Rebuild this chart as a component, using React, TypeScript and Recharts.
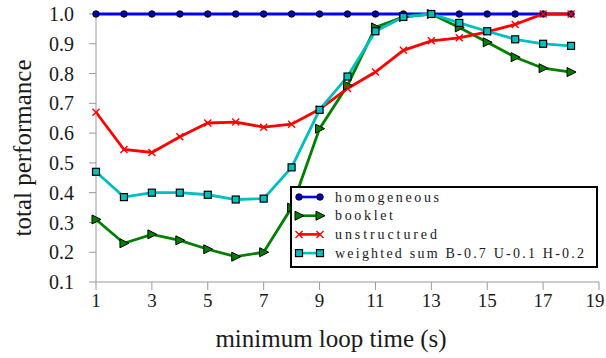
import { LineChart, Line, XAxis, YAxis, Legend, Label } from "recharts";

const loopTimes = [1, 2, 3, 4, 5, 6, 7, 8, 9, 10, 11, 12, 13, 14, 15, 16, 17, 18];
const homogeneous = [1, 1, 1, 1, 1, 1, 1, 1, 1, 1, 1, 1, 1, 1, 1, 1, 1, 1];
const booklet = [0.31, 0.23, 0.26, 0.24, 0.21, 0.185, 0.2, 0.35, 0.615, 0.76, 0.955, 0.99, 1.0, 0.955, 0.905, 0.855, 0.818, 0.805];
const unstructured = [0.67, 0.545, 0.535, 0.588, 0.634, 0.637, 0.62, 0.63, 0.68, 0.75, 0.805, 0.878, 0.91, 0.92, 0.94, 0.965, 1.0, 1.0];
const weighted = [0.47, 0.385, 0.4, 0.4, 0.393, 0.377, 0.38, 0.485, 0.678, 0.79, 0.942, 0.99, 1.0, 0.97, 0.942, 0.915, 0.9, 0.893];
const xTicks = [1, 3, 5, 7, 9, 11, 13, 15, 17, 19];
const yTicks = [0.1, 0.2, 0.3, 0.4, 0.5, 0.6, 0.7, 0.8, 0.9, 1.0];

const data = loopTimes.map((t, i) => ({
  t,
  homogeneous: homogeneous[i],
  booklet: booklet[i],
  unstructured: unstructured[i],
  weighted: weighted[i],
}));

const FONT = "Liberation Serif";
const AXIS = "#9a9a9a";
const INK = "#1a1a1a";

const BLUE = "#0000ff";
const GREEN = "#008000";
const RED = "#ff0000";
const CYAN = "#00bfbf";

// force the serif face on every text in the chart
const css = `
#root .chart-box, #root .chart-box text, #root .chart-box tspan, #root .chart-box div {
  font-family: "Liberation Serif" !important;
}
`;

const circle = (cx: number, cy: number, key?: any) => (
  <circle key={key} cx={cx} cy={cy} r={3.3} fill="#0000b0" stroke="#000" strokeWidth={0.8} />
);
const triangle = (cx: number, cy: number, key?: any) => (
  <polygon
    key={key}
    points={`${cx - 4},${cy - 4.5} ${cx + 5},${cy} ${cx - 4},${cy + 4.5}`}
    fill={GREEN}
    stroke="#000"
    strokeWidth={1}
  />
);
const cross = (cx: number, cy: number, key?: any) => (
  <g key={key} stroke={RED} strokeWidth={1.4}>
    <line x1={cx - 3.5} y1={cy - 3.5} x2={cx + 3.5} y2={cy + 3.5} />
    <line x1={cx - 3.5} y1={cy + 3.5} x2={cx + 3.5} y2={cy - 3.5} />
  </g>
);
const square = (cx: number, cy: number, key?: any) => (
  <rect key={key} x={cx - 3.5} y={cy - 3.5} width={7} height={7} fill={CYAN} stroke="#000" strokeWidth={1.2} />
);

const dotOf = (fn: any) => (p: any) => fn(p.cx, p.cy, p.key ?? `${p.index}`);

const series = [
  { key: "homogeneous", name: "homogeneous", color: BLUE, marker: circle, len: 104 },
  { key: "booklet", name: "booklet", color: GREEN, marker: triangle, len: 58 },
  { key: "unstructured", name: "unstructured", color: RED, marker: cross, len: 102 },
  { key: "weighted", name: "weighted sum B-0.7 U-0.1 H-0.2", color: CYAN, marker: square, len: 249 },
];

const renderLegend = () => (
  <div
    style={{
      width: 304,
      height: 78,
      border: "2px solid #000",
      background: "#fff",
      boxSizing: "content-box",
    }}
  >
    <svg width={304} height={78}>
      {series.map((s, i) => {
        const y = 9 + i * 18.7;
        return (
          <g key={s.key}>
            <line x1={7} y1={y} x2={28} y2={y} stroke={s.color} strokeWidth={2.6} />
            {s.marker(7, y)}
            {s.marker(28, y)}
            <text
              x={43}
              y={y + 4.5}
              fontFamily={FONT}
              fontSize={14}
              textLength={s.len}
              lengthAdjust="spacing"
              fill={INK}
            >
              {s.name}
            </text>
          </g>
        );
      })}
    </svg>
  </div>
);

const XTick = (props: any) => {
  const { x, y, payload } = props;
  const label = String(payload.value);
  const cx = Math.min(x, 606 - label.length * 5 - 1);
  return (
    <text x={cx} y={y + 14} textAnchor="middle" fontFamily={FONT} fontSize={19} fill={INK}>
      {label}
    </text>
  );
};

export default function App() {
  return (
    <div className="chart-box" style={{ position: "absolute", left: 0, top: 0, background: "#fff", fontFamily: FONT }}>
      <style>{css}</style>
      <LineChart width={606} height={358} data={data} margin={{ top: 14, right: 7, left: 0, bottom: 0 }}>
        <XAxis
          dataKey="t"
          type="number"
          domain={[1, 19]}
          ticks={xTicks}
          interval={0}
          height={76}
          stroke={AXIS}
          tickSize={8}
          tickMargin={3}
          tick={<XTick />}
        >
          <Label
            content={() => (
              <text x={331} y={347} textAnchor="middle" fontFamily={FONT} fontSize={25} fill={INK}>
                minimum loop time (s)
              </text>
            )}
          />
        </XAxis>
        <YAxis
          type="number"
          domain={[0.1, 1.0]}
          ticks={yTicks}
          interval={0}
          width={96}
          stroke={AXIS}
          tickSize={7}
          tickMargin={15}
          tickFormatter={(v: number) => v.toFixed(1)}
          tick={{ fill: INK, fontFamily: FONT, fontSize: 20 }}
        >
          <Label
            content={() => (
              <text
                x={31}
                y={148}
                transform="rotate(-90 31 148)"
                textAnchor="middle"
                fontFamily={FONT}
                fontSize={25}
                fill={INK}
              >
                total performance
              </text>
            )}
          />
        </YAxis>
        {series.map((s) => (
          <Line
            key={s.key}
            dataKey={s.key}
            name={s.name}
            stroke={s.color}
            strokeWidth={2.8}
            dot={dotOf(s.marker)}
            activeDot={false}
            isAnimationActive={false}
            type="linear"
          />
        ))}
        <Legend
          layout="vertical"
          align="center"
          verticalAlign="middle"
          wrapperStyle={{ left: 290, top: 186, width: 308 }}
          content={renderLegend}
        />
      </LineChart>
    </div>
  );
}
